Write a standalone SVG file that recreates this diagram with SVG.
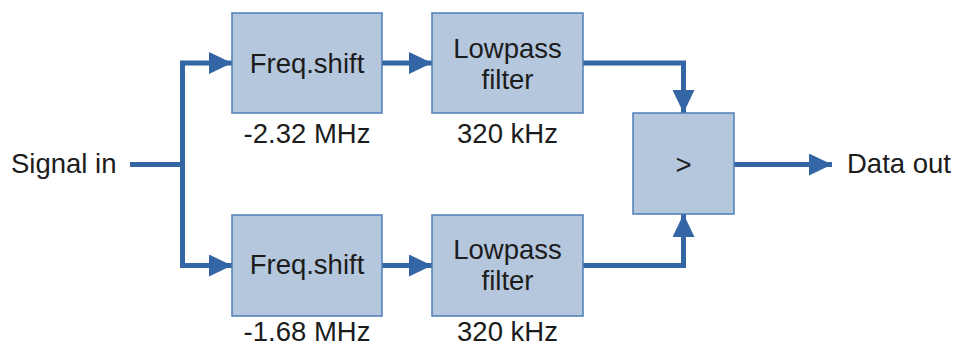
<svg xmlns="http://www.w3.org/2000/svg" width="957" height="347" viewBox="0 0 957 347">
  <style>
    .box { fill: #b4c7dc; stroke: #4f7db8; stroke-width: 1.5; }
    .wire { fill: none; stroke: #3465a4; stroke-width: 5; stroke-linejoin: miter; }
    .t { font-family: "Liberation Sans", Arial, sans-serif; font-size: 27.5px; fill: #1c1c1c; text-anchor: middle; }
    .ts { text-anchor: start; }
  </style>
  <defs>
    <marker id="arrow" markerUnits="userSpaceOnUse" markerWidth="24" markerHeight="22" refX="23" refY="11" orient="auto" viewBox="0 0 24 22">
      <path d="M0,0 L23,11 L0,22 Z" fill="#3465a4"/>
    </marker>
  </defs>

  <rect width="957" height="347" fill="#ffffff"/>

  <!-- connectors -->
  <g id="connectors">
    <path class="wire" d="M130,164.5 H182.5"/>
    <path class="wire" d="M182.5,265.5 V63 H232" marker-end="url(#arrow)"/>
    <path class="wire" d="M182.5,164 V265.5 H232" marker-end="url(#arrow)"/>
    <path class="wire" d="M382,63 H432" marker-end="url(#arrow)"/>
    <path class="wire" d="M382,265.5 H432" marker-end="url(#arrow)"/>
    <path class="wire" d="M583,63 H683.5 V113" marker-end="url(#arrow)"/>
    <path class="wire" d="M583,265.5 H683.5 V214" marker-end="url(#arrow)"/>
    <path class="wire" d="M734,164.5 H832" marker-end="url(#arrow)"/>
  </g>

  <!-- terminals -->
  <g id="signal-in"><text class="t ts" x="11" y="173">Signal in</text></g>
  <g id="data-out"><text class="t ts" x="847" y="173">Data out</text></g>

  <!-- upper branch -->
  <g id="freqshift-1">
    <rect class="box" x="232" y="13" width="150" height="100"/>
    <text class="t" x="307" y="73">Freq.shift</text>
    <text class="t" x="307" y="143">-2.32 MHz</text>
  </g>
  <g id="lowpass-1">
    <rect class="box" x="432" y="13" width="151" height="100"/>
    <text class="t" x="507.5" y="57.5">Lowpass</text>
    <text class="t" x="507.5" y="88.5">filter</text>
    <text class="t" x="507.5" y="143">320 kHz</text>
  </g>

  <!-- lower branch -->
  <g id="freqshift-2">
    <rect class="box" x="232" y="215" width="150" height="101"/>
    <text class="t" x="307" y="274">Freq.shift</text>
    <text class="t" x="307" y="341">-1.68 MHz</text>
  </g>
  <g id="lowpass-2">
    <rect class="box" x="432" y="215" width="151" height="101"/>
    <text class="t" x="507.5" y="258.5">Lowpass</text>
    <text class="t" x="507.5" y="289.5">filter</text>
    <text class="t" x="507.5" y="341">320 kHz</text>
  </g>

  <!-- comparator -->
  <g id="comparator">
    <rect class="box" x="633" y="113" width="101" height="101"/>
    <text class="t" x="683.5" y="174">&gt;</text>
  </g>
</svg>
